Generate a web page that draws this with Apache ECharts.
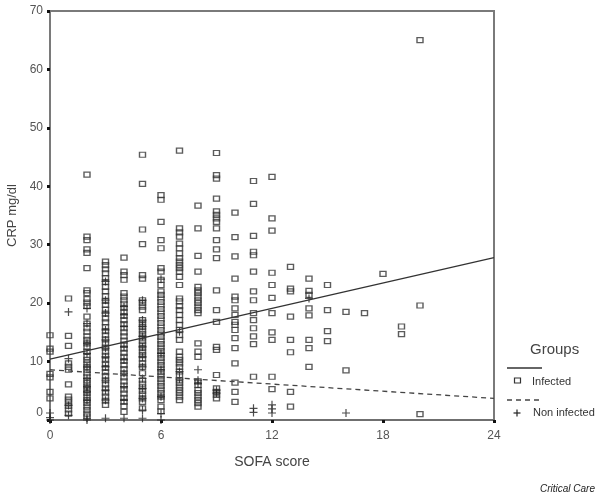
<!DOCTYPE html>
<html>
<head>
<meta charset="utf-8">
<script src="https://cdn.jsdelivr.net/npm/echarts@6/dist/echarts.min.js"></script>
<style>
html,body{margin:0;padding:0;background:#fff;}
#chart{width:600px;height:496px;}
</style>
</head>
<body>
<div id="chart"></div>
<script>
// SOFA scores (x categories, integer values)
const sofaScores = [0,1,2,3,4,5,6,7,8,9,10,11,12,13,14,15,16,17,18,19,20];

// CRP values (mg/dl) for infected patients, one list per SOFA score
const infectedCRP = [
  [14.5, 12.2, 11.7, 7.9, 7.3, 4.8, 3.7],
  [20.8, 14.4, 12.7, 9.7, 9.1, 8.6, 6.1, 4.0, 3.5, 3.0, 2.4, 1.8, 1.1],
  [42.0, 31.4, 30.8, 29.2, 28.6, 26.0, 22.2, 21.7, 20.7, 20.1, 19.5, 17.7, 16.5, 15.7, 15.1, 14.3, 13.7, 13.1, 12.5, 11.7, 10.8, 10.3, 9.7, 9.1, 8.6, 8.0, 7.4, 6.8, 6.3, 5.7, 5.1, 4.6, 4.0, 3.4, 2.9, 2.3, 1.7, 1.1, 0.6],
  [27.1, 26.5, 25.8, 25.1, 24.3, 23.6, 22.8, 22.0, 21.2, 20.4, 19.7, 18.9, 18.2, 17.4, 16.7, 15.9, 15.2, 14.5, 13.8, 13.1, 12.4, 11.7, 11.0, 10.3, 9.6, 8.9, 8.2, 7.5, 6.8, 6.1, 5.4, 4.7, 4.0, 3.3, 2.6],
  [27.8, 25.4, 24.8, 24.0, 21.7, 21.1, 20.5, 19.9, 19.2, 18.5, 17.8, 17.1, 16.4, 15.7, 15.0, 14.3, 13.6, 12.9, 12.2, 11.5, 10.8, 10.1, 9.4, 8.7, 8.0, 7.3, 6.6, 5.9, 5.2, 4.5, 3.8, 3.1, 2.4, 1.4],
  [45.4, 40.4, 32.6, 30.1, 24.8, 24.2, 20.5, 20.0, 19.4, 18.8, 17.1, 16.5, 15.9, 15.3, 14.7, 14.1, 13.5, 12.9, 12.3, 11.7, 11.1, 10.5, 9.7, 9.1, 8.0, 6.8, 6.2, 5.6, 5.0, 4.4, 3.7, 3.1, 2.0],
  [38.5, 37.7, 33.9, 30.8, 29.4, 26.0, 25.4, 24.0, 23.1, 22.0, 21.4, 20.8, 20.2, 19.6, 19.0, 18.4, 17.8, 17.2, 16.6, 16.0, 15.4, 14.8, 14.2, 13.6, 13.0, 12.4, 11.8, 11.2, 10.6, 10.0, 9.4, 8.8, 8.2, 7.6, 7.0, 6.4, 5.8, 5.2, 4.6, 4.0, 3.4, 2.3, 1.5],
  [46.1, 32.8, 32.1, 31.4, 30.2, 29.4, 28.5, 27.7, 27.1, 26.5, 26.0, 25.4, 24.5, 23.1, 20.8, 20.3, 19.5, 18.8, 18.0, 17.1, 16.3, 15.4, 14.5, 13.7, 11.7, 10.8, 10.3, 9.7, 9.1, 8.3, 7.7, 6.8, 6.3, 5.7, 5.1, 4.6, 4.0, 3.4],
  [36.7, 32.8, 28.1, 25.4, 22.8, 22.2, 21.7, 21.1, 20.5, 20.0, 19.4, 18.8, 18.3, 13.1, 11.7, 10.8, 6.6, 6.0, 5.1, 4.6, 4.0, 3.4, 2.9, 2.3],
  [45.7, 41.9, 41.3, 37.9, 35.7, 35.1, 34.5, 33.9, 32.8, 30.8, 29.2, 27.7, 22.2, 18.8, 16.8, 12.5, 12.0, 7.7, 5.4, 4.8, 4.3, 3.7],
  [35.5, 31.3, 28.0, 24.2, 21.1, 20.5, 19.1, 18.0, 16.8, 16.3, 15.4, 14.0, 12.3, 9.7, 6.4, 4.8, 3.1],
  [40.9, 37.0, 31.5, 28.8, 28.2, 25.4, 22.0, 20.5, 18.3, 17.1, 15.7, 14.3, 13.0, 7.4],
  [41.6, 34.5, 32.4, 25.2, 23.1, 20.9, 18.3, 15.0, 13.7, 7.4, 5.3],
  [26.2, 22.5, 22.0, 17.7, 13.7, 11.6, 4.8, 2.3],
  [24.2, 22.1, 21.4, 19.1, 17.9, 13.7, 12.3, 9.1],
  [23.1, 18.8, 15.2, 13.5],
  [18.5, 8.5],
  [18.3],
  [25.0],
  [16.0, 14.7],
  [65.0, 19.6, 1.0]
];

// CRP values (mg/dl) for non infected patients, one list per SOFA score
const nonInfectedCRP = [
  [1.2, 0.4, 0.0],
  [18.5, 10.5, 2.5, 0.8],
  [19.1, 16.5, 13.1, 11.4, 9.1, 7.1, 5.7, 4.8, 3.4, 0.3, 0.0],
  [23.7, 20.5, 18.3, 15.4, 13.7, 12.3, 10.8, 9.1, 6.8, 5.1, 3.4, 0.3],
  [19.4, 18.0, 16.0, 12.5, 10.3, 8.0, 5.7, 3.4, 0.3],
  [20.5, 17.1, 16.0, 14.3, 12.5, 10.8, 9.1, 7.1, 5.4, 3.7, 1.7, 0.3],
  [24.1, 11.4, 8.6, 4.0, 1.1, 0.0],
  [15.1, 8.3, 7.0],
  [8.6, 6.8, 6.2],
  [5.1, 4.6],
  [],
  [2.0, 1.3],
  [2.6, 1.9, 1.2],
  [],
  [20.8],
  [],
  [1.2],
  [],
  [],
  [],
  []
];

// Fitted regression lines (end points)
const fitX = [0, 24];
const fitInfected = [10.4, 27.8];
const fitNonInfected = [8.6, 3.7];

// Axis ticks
const xTicks = [0, 6, 12, 18, 24];
const yTicks = [0, 10, 20, 30, 40, 50, 60, 70];

function toPoints(lists) {
  const pts = [];
  sofaScores.forEach((s, i) => (lists[i] || []).forEach(v => pts.push([s, v])));
  return pts;
}

const plusPath = 'path://M3.4,0H4.6V3.4H8V4.6H4.6V8H3.4V4.6H0V3.4H3.4Z';
const FONT = 'Liberation Sans';

const chart = echarts.init(document.getElementById('chart'), null, {renderer: 'canvas'});
chart.setOption({
  animation: false,
  backgroundColor: '#fff',
  grid: {left: 50, right: 106, top: 11, bottom: 76, show: true, borderColor: '#7a7a7a', borderWidth: 2, backgroundColor: 'transparent', containLabel: false, outerBoundsMode: 'none'},
  xAxis: {
    type: 'value', min: xTicks[0], max: xTicks[xTicks.length - 1], interval: 6,
    name: 'SOFA score', nameLocation: 'middle', nameGap: 35,
    nameTextStyle: {fontFamily: FONT, fontSize: 14, color: '#444'},
    axisLine: {show: true, lineStyle: {color: '#6f6f6f', width: 2}},
    axisTick: {show: true, length: 3, lineStyle: {color: '#111', width: 3}},
    axisLabel: {fontFamily: FONT, fontSize: 12, color: '#555', margin: 10},
    splitLine: {show: false}
  },
  yAxis: {
    type: 'value', min: yTicks[0], max: yTicks[yTicks.length - 1], interval: 10,
    name: 'CRP mg/dl', nameLocation: 'middle', nameGap: 30,
    nameTextStyle: {fontFamily: FONT, fontSize: 13, color: '#444'},
    axisLine: {show: true, lineStyle: {color: '#7a7a7a', width: 2}},
    axisTick: {show: true, length: 3, lineStyle: {color: '#111', width: 3}},
    axisLabel: {
      fontFamily: FONT, fontSize: 12, color: '#555', margin: 7,
      formatter: v => v === 0 ? '{z|0}' : String(v),
      rich: {z: {fontFamily: FONT, fontSize: 12, color: '#555', padding: [0, 0, 15, 0]}}
    },
    splitLine: {show: false}
  },
  series: [
    {
      name: 'Infected', type: 'scatter', data: toPoints(infectedCRP),
      symbol: 'rect', symbolSize: [6, 5],
      itemStyle: {color: 'rgba(255,255,255,0)', borderColor: '#333', borderWidth: 1.3},
      z: 3
    },
    {
      name: 'Non infected', type: 'scatter', data: toPoints(nonInfectedCRP),
      symbol: plusPath, symbolSize: 8,
      itemStyle: {color: '#222'},
      z: 4
    },
    {
      name: 'Infected fit', type: 'line', data: fitX.map((x, i) => [x, fitInfected[i]]),
      symbol: 'none', lineStyle: {color: '#333', width: 1.3}, z: 5
    },
    {
      name: 'Non infected fit', type: 'line', data: fitX.map((x, i) => [x, fitNonInfected[i]]),
      symbol: 'none', lineStyle: {color: '#444', width: 1.3, type: [5, 4]}, z: 5
    }
  ],
  graphic: [
    {type: 'text', style: {x: 530, y: 350, text: 'Groups', font: '15px "Liberation Sans"', fill: '#444', textVerticalAlign: 'middle'}},
    {type: 'line', shape: {x1: 507, y1: 368, x2: 542, y2: 368}, style: {stroke: '#333', lineWidth: 1.3}},
    {type: 'rect', shape: {x: 514.5, y: 378, width: 6, height: 5}, style: {stroke: '#333', fill: 'none', lineWidth: 1.2}},
    {type: 'text', style: {x: 532, y: 382, text: 'Infected', font: '11px "Liberation Sans"', fill: '#333', textVerticalAlign: 'middle'}},
    {type: 'line', shape: {x1: 507, y1: 400, x2: 542, y2: 400}, style: {stroke: '#444', lineWidth: 1.3, lineDash: [5, 4]}},
    {type: 'line', shape: {x1: 513.5, y1: 413, x2: 520.5, y2: 413}, style: {stroke: '#222', lineWidth: 1.2}},
    {type: 'line', shape: {x1: 517, y1: 409.5, x2: 517, y2: 416.5}, style: {stroke: '#222', lineWidth: 1.2}},
    {type: 'text', style: {x: 533, y: 413, text: 'Non infected', font: '11px "Liberation Sans"', fill: '#333', textVerticalAlign: 'middle'}},
    {type: 'text', style: {x: 595, y: 489, text: 'Critical Care', font: 'italic 10px "Liberation Sans"', fill: '#222', textAlign: 'right', textVerticalAlign: 'middle'}}
  ]
});
</script>
</body>
</html>
